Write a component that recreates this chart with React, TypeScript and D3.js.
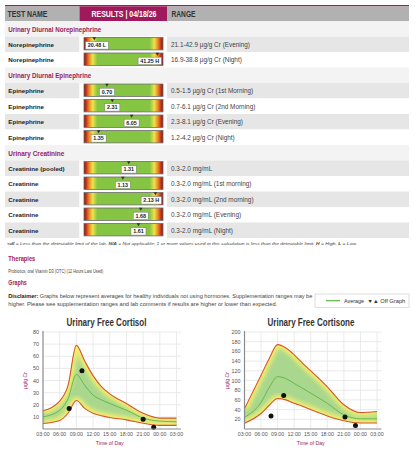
import React from "react";
import * as d3 from "d3";

const sectionTitles = ["Urinary Diurnal Norepinephrine", "Urinary Diurnal Epinephrine", "Urinary Creatinine"];
const testSection = [0, 0, 1, 1, 1, 1, 2, 2, 2, 2, 2];
const testNames = ["Norepinephrine", "Norepinephrine", "Epinephrine", "Epinephrine", "Epinephrine", "Epinephrine", "Creatinine (pooled)", "Creatinine", "Creatinine", "Creatinine", "Creatinine"];
const testValues = [20.48, 41.25, 0.7, 2.31, 6.05, 1.35, 1.31, 1.13, 2.13, 1.68, 1.61];
const testFlags = ["L", "H", "", "", "", "", "", "", "H", "", ""];
const rangeLow = [21.1, 16.9, 0.5, 0.7, 2.3, 1.2, 0.3, 0.3, 0.3, 0.3, 0.3];
const rangeHigh = [42.9, 38.8, 1.5, 6.1, 8.1, 4.2, 2.0, 2.0, 2.0, 2.0, 2.0];
const rangeTexts = [
  "21.1-42.9 µg/g Cr (Evening)",
  "16.9-38.8 µg/g Cr (Night)",
  "0.5-1.5 µg/g Cr (1st Morning)",
  "0.7-6.1 µg/g Cr (2nd Morning)",
  "2.3-8.1 µg/g Cr (Evening)",
  "1.2-4.2 µg/g Cr (Night)",
  "0.3-2.0 mg/mL",
  "0.3-2.0 mg/mL (1st morning)",
  "0.3-2.0 mg/mL (2nd morning)",
  "0.3-2.0 mg/mL (Evening)",
  "0.3-2.0 mg/mL (Night)",
];

const hours = [3, 6, 7.5, 9, 10.5, 12, 13.5, 15, 18, 21, 24, 27];
const xTickHours = [3, 6, 9, 12, 15, 18, 21, 24, 27];
const xTickLabels = ["03:00", "06:00", "09:00", "12:00", "15:00", "18:00", "21:00", "00:00", "03:00"];

const cortisolUpper = [15, 23, 36, 69, 56, 44, 35, 29, 21, 13, 9, 9];
const cortisolAvg = [10, 15.5, 25, 45, 36, 28, 24, 21, 15.5, 9, 6.5, 6];
const cortisolLower = [4.5, 7, 13, 23.5, 17, 13, 11, 9.5, 7.5, 4.7, 3, 3];
const cortisolDotHours = [7.7, 10.0, 21.0, 22.9];
const cortisolDotValues = [17, 48, 8, 1.5];
const cortisolTicks = [10, 20, 30, 40, 50, 60, 70, 80];

const cortisoneUpper = [42, 111, 146, 174, 167, 153, 136, 120, 87, 50, 34, 36];
const cortisoneAvg = [24, 55, 86, 108, 104, 94, 84, 74, 53, 29, 21, 21];
const cortisoneLower = [12, 32, 49, 63, 60, 53, 47, 40, 27, 17, 12.5, 12.5];
const cortisoneDotHours = [7.8, 10.1, 21.2, 23.1];
const cortisoneDotValues = [27, 69, 25, 7];
const cortisoneTicks = [20, 40, 60, 80, 100, 120, 140, 160, 180, 200];

const MAG = "#9e1a5c";
const FONT = "'Liberation Sans', Arial, Helvetica, sans-serif";

const charW: Record<string, number> = { ".": 0.278, " ": 0.278, L: 0.611, H: 0.722 };
function textW(s: string, size: number) {
  let w = 0;
  for (const c of s) w += charW[c] ?? 0.556;
  return w * size;
}

type ChartProps = {
  id: string;
  title: string;
  titleX: number;
  titleLen: number;
  x0: number;
  x1: number;
  yMax: number;
  ticks: number[];
  upper: number[];
  avg: number[];
  lower: number[];
  dotHours: number[];
  dotValues: number[];
};

const Y_TOP = 332;
const Y_BOT = 429;

function Chart(p: ChartProps) {
  const x = d3.scaleLinear().domain([3, 27]).range([p.x0, p.x1]);
  const y = d3.scaleLinear().domain([0, p.yMax]).range([Y_BOT, Y_TOP]);
  const gx = p.x1 + 4.5;
  const curve = d3.curveMonotoneX;
  const idx = hours.map((_, i) => i);
  const area = d3
    .area<number>()
    .x((i) => x(hours[i]))
    .y0((i) => y(p.lower[i]))
    .y1((i) => y(p.upper[i]))
    .curve(curve);
  const line = (arr: number[]) =>
    d3
      .line<number>()
      .x((i) => x(hours[i]))
      .y((i) => y(arr[i]))
      .curve(curve)(idx) as string;
  const areaD = area(idx) as string;
  return (
    <g>
      <defs>
        <clipPath id={`clip-${p.id}`}>
          <path d={areaD} />
        </clipPath>
        <filter id={`blur-${p.id}`} x="-20%" y="-20%" width="140%" height="140%">
          <feGaussianBlur stdDeviation="2.2" />
        </filter>
      </defs>
      <text x={p.titleX} y={325.5} textAnchor="middle" fontSize={10} fontWeight="bold" fill="#333" textLength={p.titleLen} lengthAdjust="spacingAndGlyphs">
        {p.title}
      </text>
      {p.ticks.map((t) => (
        <line key={`h${t}`} x1={p.x0} x2={gx} y1={y(t)} y2={y(t)} stroke="#e4e4e4" strokeWidth={0.8} />
      ))}
      {xTickHours.slice(1).map((h) => (
        <line key={`v${h}`} x1={x(h)} x2={x(h)} y1={Y_TOP} y2={Y_BOT} stroke="#e4e4e4" strokeWidth={0.8} />
      ))}
      <path d={areaD} fill="#a9d78e" />
      <g clipPath={`url(#clip-${p.id})`}>
        <path d={line(p.upper)} fill="none" stroke="#f4ee6e" strokeWidth={7} filter={`url(#blur-${p.id})`} />
        <path d={line(p.lower)} fill="none" stroke="#f4ee6e" strokeWidth={7} filter={`url(#blur-${p.id})`} />
      </g>
      <path d={line(p.upper)} fill="none" stroke="#d8562c" strokeWidth={1.1} />
      <path d={line(p.lower)} fill="none" stroke="#d8562c" strokeWidth={1.1} />
      <path d={line(p.avg)} fill="none" stroke="#5fb246" strokeWidth={0.9} />
      {p.dotHours.map((h, i) => (
        <circle key={`d${i}`} cx={x(h)} cy={y(p.dotValues[i])} r={2.5} fill="#111" />
      ))}
      <line x1={p.x0} x2={p.x0} y1={Y_TOP - 1} y2={Y_BOT} stroke="#8a8a8a" strokeWidth={1.2} />
      <line x1={p.x0} x2={gx} y1={Y_BOT} y2={Y_BOT} stroke="#8a8a8a" strokeWidth={1.2} />
      {p.ticks.map((t) => (
        <text key={`yl${t}`} x={p.x0 - 4} y={y(t) + 2} textAnchor="end" fontSize={5.4} fill="#555">
          {t}
        </text>
      ))}
      {xTickHours.map((h, i) => (
        <text key={`xl${i}`} x={x(h)} y={436} textAnchor="middle" fontSize={5.3} fill="#555">
          {xTickLabels[i]}
        </text>
      ))}
      <text x={(p.x0 + p.x1) / 2} y={444.5} textAnchor="middle" fontSize={5.2} fill={MAG}>
        Time of Day
      </text>
      <text
        transform={`translate(${p.x0 - 16},${(Y_TOP + Y_BOT) / 2}) rotate(-90)`}
        textAnchor="middle"
        fontSize={5.2}
        fill={MAG}
      >
        µg/g Cr
      </text>
    </g>
  );
}

export default function App() {
  const X0 = 5;
  const X1 = 409;
  const C1 = 79.5;
  const C2 = 167;
  const ROW_H = 15.5;
  const BAR_X = 84;
  const BAR_W = 79;

  const rows: { type: "section" | "test"; i: number; k: number }[] = [];
  sectionTitles.forEach((_, s) => {
    rows.push({ type: "section", i: s, k: 0 });
    let k = 0;
    testNames.forEach((_, t) => {
      if (testSection[t] === s) rows.push({ type: "test", i: t, k: k++ });
    });
  });

  return (
    <svg width={416} height={469} style={{ position: "absolute", left: 0, top: 0, background: "#fff" }} fontFamily={FONT}>
      <defs>
        <linearGradient id="barGrad" x1="0" x2="1" y1="0" y2="0">
          <stop offset="0" stopColor="#7e1710" />
          <stop offset="0.03" stopColor="#c9391b" />
          <stop offset="0.065" stopColor="#e98a28" />
          <stop offset="0.11" stopColor="#ede34a" />
          <stop offset="0.17" stopColor="#86c443" />
          <stop offset="0.83" stopColor="#86c443" />
          <stop offset="0.89" stopColor="#ede34a" />
          <stop offset="0.935" stopColor="#e98a28" />
          <stop offset="0.97" stopColor="#c9391b" />
          <stop offset="1" stopColor="#7e1710" />
        </linearGradient>
      </defs>

      {/* header */}
      <rect x={X0} y={5} width={X1 - X0} height={1.4} fill={MAG} />
      <rect x={X0} y={6.4} width={C1 - X0} height={14.6} fill="#b1b1b1" />
      <rect x={C1} y={6.4} width={C2 - C1} height={14.6} fill={MAG} />
      <rect x={C2} y={6.4} width={X1 - C2} height={14.6} fill="#b1b1b1" />
      <text x={7.5} y={17.3} fontSize={8.5} fontWeight="bold" fill="#333" textLength={40} lengthAdjust="spacingAndGlyphs">
        TEST NAME
      </text>
      <text x={124} y={17.3} textAnchor="middle" fontSize={8.5} fontWeight="bold" fill="#fff" textLength={65} lengthAdjust="spacingAndGlyphs">
        RESULTS | 04/18/26
      </text>
      <text x={171.5} y={17.3} fontSize={8.5} fontWeight="bold" fill="#333" textLength={24} lengthAdjust="spacingAndGlyphs">
        RANGE
      </text>

      {rows.map((r, n) => {
        const top = 21 + n * ROW_H;
        if (r.type === "section") {
          const lens = [93, 83, 56];
          return (
            <g key={`r${n}`}>
              <rect x={X0} y={top} width={X1 - X0} height={ROW_H} fill="#f3f3f3" />
              <text x={8.3} y={top + 10.6} fontSize={7.6} fontWeight="bold" fill={MAG} textLength={lens[r.i]} lengthAdjust="spacingAndGlyphs">
                {sectionTitles[r.i]}
              </text>
            </g>
          );
        }
        const t = r.i;
        const gray = r.k % 2 === 0;
        const bg = gray ? "#e6e6e6" : "#ffffff";
        const sc = d3
          .scaleLinear()
          .domain([rangeLow[t], rangeHigh[t]])
          .range([BAR_X + 0.15 * BAR_W, BAR_X + 0.85 * BAR_W]);
        const mx = Math.max(BAR_X + 2.5, Math.min(BAR_X + BAR_W - 2.5, sc(testValues[t])));
        const label = testValues[t].toFixed(2) + (testFlags[t] ? " " + testFlags[t] : "");
        const fs = 5.4;
        const bw = textW(label, fs) + 4.5;
        let bx = mx - bw / 2;
        bx = Math.max(BAR_X + 1.5, Math.min(BAR_X + BAR_W - 1.5 - bw, bx));
        const barTop = top + 1;
        return (
          <g key={`r${n}`}>
            <rect x={X0} y={top} width={C1 - X0} height={ROW_H} fill={bg} />
            <rect x={C1} y={top} width={C2 - C1} height={ROW_H} fill="#fff" />
            <rect x={C2} y={top} width={X1 - C2} height={ROW_H} fill={bg} />
            <text x={8.3} y={top + 10.2} fontSize={6.2} fontWeight="bold" fill="#222">
              {testNames[t]}
            </text>
            <rect x={BAR_X} y={barTop} width={BAR_W} height={12.4} fill="url(#barGrad)" stroke="#6d6d6d" strokeWidth={0.8} />
            <rect x={bx} y={barTop + 4.2} width={bw} height={7.4} fill="#fff" stroke="#777" strokeWidth={0.5} />
            <text x={bx + bw / 2} y={barTop + 9.9} textAnchor="middle" fontSize={fs} fontWeight="bold" fill="#222">
              {label}
            </text>
            <path d={`M${mx - 1.8},${barTop - 0.3} L${mx + 1.8},${barTop - 0.3} L${mx},${barTop + 2.8} Z`} fill="#333" />
            <text x={171} y={top + 10.2} fontSize={6.4} fill="#444">
              {rangeTexts[t]}
            </text>
          </g>
        );
      })}

      {/* footnote */}
      <text x={7} y={245} fontSize={4.4} fontStyle="italic" fill="#444" textLength={350} lengthAdjust="spacingAndGlyphs">
        <tspan fontWeight="bold">&lt;dl</tspan> = Less than the detectable limit of the lab.{"  "}
        <tspan fontWeight="bold">N/A</tspan> = Not applicable; 1 or more values used in this calculation is less than the detectable limit.{"  "}
        <tspan fontWeight="bold">H</tspan> = High.{"  "}
        <tspan fontWeight="bold">L</tspan> = Low.
      </text>

      <text x={8.3} y={260.5} fontSize={8} fontWeight="bold" fill={MAG} textLength={27} lengthAdjust="spacingAndGlyphs">
        Therapies
      </text>
      <text x={8.3} y={273} fontSize={5.4} fill="#444" textLength={95} lengthAdjust="spacingAndGlyphs">
        Probiotics; oral Vitamin D3 (OTC) (12 Hours Last Used)
      </text>
      <text x={8.3} y={285} fontSize={8} fontWeight="bold" fill={MAG} textLength={18.5} lengthAdjust="spacingAndGlyphs">
        Graphs
      </text>
      <text x={8.3} y={298} fontSize={5.4} fill="#444" textLength={304} lengthAdjust="spacingAndGlyphs">
        <tspan fontWeight="bold" fill="#222">Disclaimer:</tspan> Graphs below represent averages for healthy individuals not using hormones. Supplementation ranges may be
      </text>
      <text x={8.3} y={306} fontSize={5.4} fill="#444" textLength={269} lengthAdjust="spacingAndGlyphs">
        higher. Please see supplementation ranges and lab comments if results are higher or lower than expected.
      </text>

      {/* legend */}
      <rect x={315} y={294} width={94} height={13.3} fill="#fff" stroke="#cfcfcf" strokeWidth={0.7} />
      <line x1={326} x2={340} y1={300.7} y2={300.7} stroke="#5fb246" strokeWidth={1.2} />
      <text x={344} y={302.6} fontSize={5.4} fill="#333" textLength={20} lengthAdjust="spacingAndGlyphs">
        Average
      </text>
      <text x={367.3} y={302.6} fontSize={5.4} fill="#333" textLength={38} lengthAdjust="spacingAndGlyphs">
        ▼▲ Off Graph
      </text>

      <Chart
        id="cortisol"
        title="Urinary Free Cortisol"
        titleX={106.5}
        titleLen={80}
        x0={43}
        x1={176.5}
        yMax={80}
        ticks={cortisolTicks}
        upper={cortisolUpper}
        avg={cortisolAvg}
        lower={cortisolLower}
        dotHours={cortisolDotHours}
        dotValues={cortisolDotValues}
      />
      <Chart
        id="cortisone"
        title="Urinary Free Cortisone"
        titleX={311}
        titleLen={87}
        x0={244.5}
        x1={377}
        yMax={200}
        ticks={cortisoneTicks}
        upper={cortisoneUpper}
        avg={cortisoneAvg}
        lower={cortisoneLower}
        dotHours={cortisoneDotHours}
        dotValues={cortisoneDotValues}
      />
    </svg>
  );
}
